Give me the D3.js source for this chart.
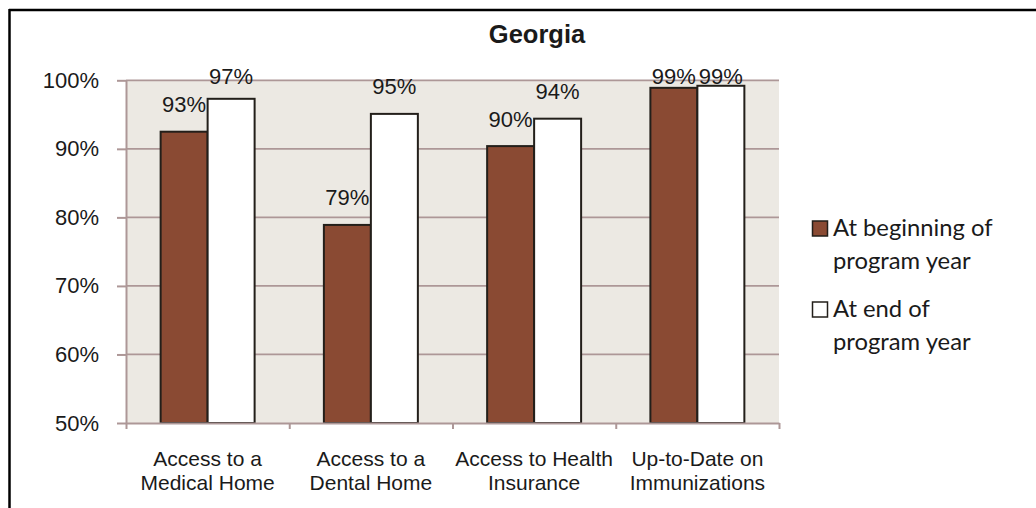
<!DOCTYPE html>
<html lang="en">

<head>
    <meta charset="UTF-8">
    <title>Georgia</title>
    <script src="https://d3js.org/d3.v7.min.js"></script>
    <style>
        body {
            margin: 0;
            background: #fff;
        }

        svg {
            display: block;
            font-family: "Liberation Sans", Arial, sans-serif;
        }
    </style>
</head>

<body>
    <div id="chart"></div>

    <script>
        // Chart data
        const categories = [
            ["Access to a", "Medical Home"],
            ["Access to a", "Dental Home"],
            ["Access to Health", "Insurance"],
            ["Up-to-Date on", "Immunizations"]
        ];
        const seriesNames = ["At beginning of program year", "At end of program year"];
        const legendLines = [["At beginning of", "program year"], ["At end of", "program year"]];
        const beginValues = [0.925, 0.789, 0.904, 0.989];
        const endValues = [0.973, 0.951, 0.944, 0.992];
        const yTicks = [0.5, 0.6, 0.7, 0.8, 0.9, 1.0];

        const W = 1036, H = 508;
        const plot = { left: 126, right: 779, top: 80.3, bottom: 423 };
        const colors = ["#8a4a33", "#ffffff"];

        const svg = d3.select("#chart")
            .append("svg")
            .attr("width", W)
            .attr("height", H);

        // outer frame (only top and left edges are visible)
        svg.append("line").attr("x1", 9).attr("x2", W).attr("y1", 10).attr("y2", 10)
            .attr("stroke", "#000").attr("stroke-width", 2.5);
        svg.append("line").attr("x1", 9.5).attr("x2", 9.5).attr("y1", 9).attr("y2", H)
            .attr("stroke", "#000").attr("stroke-width", 2.5);

        // title
        svg.append("text")
            .attr("x", 537)
            .attr("y", 43)
            .attr("text-anchor", "middle")
            .style("font-weight", "bold")
            .style("font-size", "25.5px")
            .style("fill", "#1a1a1a")
            .text("Georgia");

        const idx = d3.range(categories.length);
        const x = d3.scaleBand()
            .domain(idx)
            .range([plot.left, plot.right])
            .padding(0);

        const xs = d3.scaleBand()
            .domain([0, 1])
            .range([0, x.bandwidth()])
            .paddingInner(0)
            .paddingOuter(0.737);

        const y = d3.scaleLinear()
            .domain([0.5, 1.0])
            .range([plot.bottom, plot.top]);

        // plot background
        svg.append("rect")
            .attr("x", plot.left)
            .attr("y", plot.top)
            .attr("width", plot.right - plot.left)
            .attr("height", plot.bottom - plot.top)
            .attr("fill", "#ece9e3");

        // gridlines
        svg.append("g")
            .selectAll("line")
            .data(yTicks.slice(1))
            .enter()
            .append("line")
            .attr("x1", plot.left)
            .attr("x2", plot.right)
            .attr("y1", d => y(d))
            .attr("y2", d => y(d))
            .attr("stroke", "#ad9797")
            .attr("stroke-width", 1.8);

        // y axis
        const yAxis = svg.append("g")
            .attr("transform", `translate(${plot.left},0)`)
            .call(d3.axisLeft(y).tickValues(yTicks).tickSize(9).tickSizeOuter(0).tickPadding(18)
                .tickFormat(d3.format(".0%")));
        yAxis.select(".domain").attr("stroke", "#ad9797").attr("stroke-width", 2);
        yAxis.selectAll(".tick line").attr("stroke", "#ad9797").attr("stroke-width", 2);
        yAxis.selectAll(".tick text")
            .style("font-size", "22px")
            .style("font-family", "'Liberation Sans', Arial, sans-serif")
            .attr("fill", "#1a1a1a");

        // bars
        const series = [beginValues, endValues];
        series.forEach((vals, s) => {
            svg.append("g")
                .selectAll("rect")
                .data(vals)
                .enter()
                .append("rect")
                .attr("x", (d, i) => x(i) + xs(s))
                .attr("y", d => y(d))
                .attr("width", xs.bandwidth())
                .attr("height", d => plot.bottom - y(d))
                .attr("fill", colors[s])
                .attr("stroke", "#231f1a")
                .attr("stroke-width", 2);
        });

        // x axis with ticks at category boundaries
        const xb = d3.scaleLinear().domain([0, categories.length]).range([plot.left, plot.right]);
        const xAxis = svg.append("g")
            .attr("transform", `translate(0,${plot.bottom})`)
            .call(d3.axisBottom(xb).ticks(categories.length).tickSize(6).tickSizeOuter(0).tickFormat(""));
        xAxis.select(".domain").attr("stroke", "#ad9797").attr("stroke-width", 2);
        xAxis.selectAll(".tick line").attr("stroke", "#ad9797").attr("stroke-width", 2);

        // category labels
        const catLabels = svg.append("g")
            .selectAll("text")
            .data(categories)
            .enter()
            .append("text")
            .attr("x", (d, i) => x(i) + x.bandwidth() / 2)
            .attr("y", 466)
            .attr("text-anchor", "middle")
            .style("font-size", "21px")
            .style("fill", "#1a1a1a");
        catLabels.selectAll("tspan")
            .data(d => d)
            .enter()
            .append("tspan")
            .attr("x", function () { return this.parentNode.getAttribute("x"); })
            .attr("dy", (d, i) => i === 0 ? 0 : 23.5)
            .text(d => d);

        // data labels (kept from running over the title)
        series.forEach((vals, s) => {
            svg.append("g")
                .selectAll("text")
                .data(vals)
                .enter()
                .append("text")
                .attr("x", (d, i) => x(i) + xs(s) + xs.bandwidth() / 2)
                .attr("y", d => Math.max(y(d) - 19.5, 84))
                .attr("text-anchor", "middle")
                .style("font-size", "22px")
                .style("fill", "#1a1a1a")
                .text(d => d3.format(".0%")(d));
        });

        // legend
        const legend = svg.append("g")
            .selectAll("g")
            .data(seriesNames)
            .enter()
            .append("g")
            .attr("transform", (d, i) => `translate(812,${220.5 + i * 81})`);

        legend.append("rect")
            .attr("x", 0.5)
            .attr("y", 0.5)
            .attr("width", 15)
            .attr("height", 15)
            .attr("fill", (d, i) => colors[i])
            .attr("stroke", "#231f1a")
            .attr("stroke-width", 1.5);

        legend.append("text")
            .style("font-family", "Lato, 'Open Sans', sans-serif")
            .style("font-size", "23.8px")
            .style("fill", "#1a1a1a")
            .selectAll("tspan")
            .data((d, i) => legendLines[i])
            .enter()
            .append("tspan")
            .attr("x", 21)
            .attr("y", (d, i) => 15 + i * 33.5)
            .text(d => d);
    </script>
</body>

</html>
